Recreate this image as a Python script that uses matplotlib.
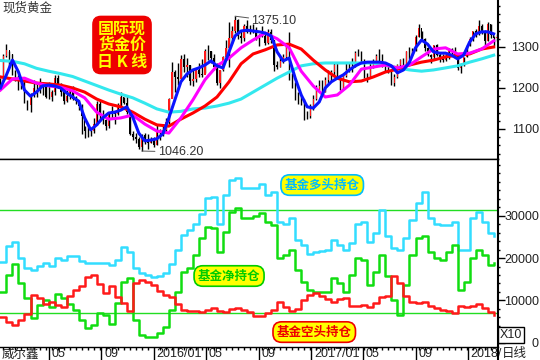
import numpy as np
import pandas as pd
import matplotlib
matplotlib.use('Agg')
import matplotlib.pyplot as plt
import matplotlib.dates as mdates
from matplotlib.lines import Line2D
from matplotlib.ticker import FixedLocator, MultipleLocator
from matplotlib.transforms import ScaledTranslation

plt.rcParams['font.family'] = ['Liberation Sans', 'Noto Sans CJK SC', 'DejaVu Sans']
CJK = ['Noto Sans CJK SC', 'DejaVu Sans']

# weekly spot gold (from 2015-01-09)
gold_close = [
    1223, 1277, 1293, 1283, 1235, 1227, 1206, 1213, 1166, 1159,
    1183, 1199, 1201, 1207, 1203, 1179, 1179, 1189, 1225, 1205,
    1190, 1168, 1181, 1201, 1173, 1168, 1157, 1131, 1096, 1095,
    1094, 1113, 1160, 1134, 1121, 1108, 1137, 1145, 1137, 1156,
    1177, 1163, 1142, 1088, 1081, 1076, 1056, 1085, 1075, 1065,
    1076, 1061, 1098, 1089, 1097, 1116, 1173, 1239, 1227, 1222,
    1270, 1250, 1255, 1217, 1222, 1243, 1235, 1231, 1290, 1289,
    1273, 1252, 1212, 1243, 1275, 1298, 1322, 1340, 1366, 1327,
    1322, 1350, 1336, 1336, 1341, 1321, 1326, 1328, 1310, 1337,
    1316, 1257, 1251, 1267, 1276, 1304, 1225, 1208, 1178, 1177,
    1160, 1133, 1131, 1152, 1173, 1196, 1204, 1190, 1220, 1234,
    1239, 1257, 1226, 1201, 1229, 1243, 1249, 1254, 1285, 1283,
    1268, 1228, 1227, 1254, 1267, 1279, 1266, 1254, 1256, 1241,
    1212, 1228, 1255, 1269, 1258, 1289, 1284, 1291, 1325, 1347,
    1320, 1297, 1280, 1275, 1304, 1280, 1272, 1269, 1275, 1294,
    1288, 1280, 1248, 1257, 1275, 1303, 1320, 1338, 1332, 1350,
    1333, 1315, 1356, 1330, 1323, 1324]
gold_high = [
    1224, 1282, 1307, 1290, 1284, 1243, 1232, 1221, 1218, 1171,
    1188, 1220, 1214, 1224, 1209, 1205, 1215, 1194, 1232, 1232,
    1212, 1196, 1195, 1205, 1204, 1180, 1170, 1160, 1107, 1104,
    1098, 1126, 1168, 1170, 1146, 1124, 1141, 1156, 1145, 1164,
    1191, 1178, 1180, 1142, 1094, 1090, 1080, 1088, 1089, 1088,
    1081, 1080, 1110, 1101, 1112, 1127, 1175, 1263, 1243, 1261,
    1280, 1283, 1273, 1256, 1244, 1245, 1262, 1271, 1296, 1304,
    1290, 1283, 1260, 1244, 1278, 1316, 1362, 1350, 1375.1, 1368,
    1338, 1355, 1367, 1353, 1356, 1348, 1331, 1352, 1331, 1344,
    1343, 1318, 1267, 1275, 1284, 1307, 1337, 1236, 1215, 1191,
    1180, 1173, 1144, 1162, 1182, 1207, 1220, 1220, 1226, 1244,
    1245, 1263, 1264, 1227, 1233, 1261, 1260, 1273, 1289, 1295,
    1289, 1270, 1236, 1264, 1270, 1283, 1296, 1284, 1259, 1261,
    1242, 1233, 1258, 1271, 1274, 1291, 1301, 1297, 1330, 1357,
    1338, 1322, 1300, 1282, 1306, 1307, 1286, 1284, 1287, 1297,
    1298, 1299, 1281, 1261, 1276, 1306, 1325, 1340, 1344, 1366,
    1355, 1341, 1362, 1356, 1326, 1331]
gold_low = [
    1204, 1216, 1276, 1250, 1232, 1216, 1194, 1198, 1164, 1147,
    1142, 1178, 1178, 1188, 1182, 1175, 1174, 1169, 1183, 1200,
    1181, 1162, 1166, 1173, 1170, 1161, 1147, 1088, 1077, 1080,
    1084, 1089, 1110, 1119, 1112, 1098, 1102, 1124, 1112, 1134,
    1151, 1161, 1137, 1085, 1073, 1065, 1052, 1046.2, 1064, 1050,
    1065, 1057, 1062, 1072, 1083, 1090, 1111, 1175, 1191, 1208,
    1219, 1239, 1226, 1208, 1206, 1215, 1226, 1228, 1236, 1269,
    1262, 1245, 1208, 1200, 1242, 1272, 1250, 1310, 1335, 1319,
    1310, 1314, 1334, 1332, 1335, 1316, 1302, 1324, 1306, 1308,
    1310, 1241, 1247, 1251, 1261, 1272, 1220, 1201, 1171, 1161,
    1158, 1122, 1124, 1128, 1146, 1171, 1195, 1180, 1190, 1213,
    1216, 1232, 1223, 1195, 1198, 1226, 1240, 1240, 1251, 1279,
    1260, 1224, 1214, 1230, 1248, 1259, 1263, 1250, 1241, 1236,
    1208, 1205, 1224, 1246, 1252, 1256, 1271, 1281, 1289, 1324,
    1316, 1289, 1277, 1260, 1271, 1277, 1263, 1264, 1265, 1271,
    1282, 1272, 1245, 1236, 1253, 1275, 1302, 1314, 1324, 1330,
    1331, 1306, 1314, 1322, 1303, 1315]

# moving averages (blue every 2 weeks, others every 4 weeks)
ma_fast = [
    1200, 1232, 1268, 1239, 1195, 1180, 1190, 1205, 1207, 1205,
    1200, 1188, 1178, 1168, 1127, 1098, 1110, 1127, 1139, 1141,
    1146, 1154, 1129, 1090, 1071, 1073, 1076, 1088, 1127, 1171,
    1215, 1234, 1244, 1249, 1256, 1266, 1254, 1249, 1288, 1327,
    1339, 1341, 1339, 1337, 1334, 1327, 1288, 1266, 1273, 1224,
    1183, 1154, 1151, 1166, 1200, 1215, 1224, 1232, 1244, 1254,
    1261, 1263, 1263, 1263, 1261, 1254, 1237, 1244, 1263, 1298,
    1317, 1307, 1288, 1285, 1285, 1280, 1271, 1280, 1312, 1332,
    1337, 1337, 1332]
ma_mid = [
    1195, 1222, 1224, 1212, 1205, 1202, 1193, 1176, 1141, 1124,
    1127, 1134, 1112, 1095, 1090, 1127, 1171, 1220, 1254, 1273,
    1298, 1317, 1334, 1320, 1298, 1241, 1205, 1178, 1183, 1207,
    1246, 1251, 1256, 1249, 1256, 1276, 1295, 1298, 1283, 1285,
    1295, 1315]
ma_slow = [
    1227, 1222, 1217, 1212, 1210, 1207, 1200, 1190, 1173, 1161,
    1154, 1141, 1124, 1110, 1107, 1124, 1139, 1156, 1178, 1215,
    1259, 1283, 1293, 1305, 1307, 1295, 1268, 1244, 1224, 1215,
    1217, 1227, 1239, 1246, 1256, 1263, 1268, 1276, 1280, 1283,
    1295, 1300]
ma_long = [
    1267, 1265, 1259, 1248, 1241, 1235, 1228, 1217, 1206, 1195,
    1185, 1176, 1163, 1149, 1141, 1143, 1149, 1151, 1156, 1163,
    1173, 1190, 1207, 1224, 1239, 1254, 1259, 1261, 1261, 1261,
    1261, 1261, 1256, 1249, 1244, 1241, 1244, 1249, 1254, 1263,
    1271, 1280]

# fund positions (contracts), every 2 weeks
fund_long = [
    19100, 22800, 23800, 20000, 17600, 17200, 18100, 18800, 18100, 20000,
    19500, 20500, 20500, 19300, 18800, 18800, 18800, 18800, 18400, 19500,
    22600, 21400, 17600, 16500, 16000, 15500, 15800, 16500, 18600, 21900,
    25400, 26600, 28000, 30400, 34200, 34400, 28000, 34900, 38400, 38900,
    36500, 36500, 36500, 37500, 34900, 35600, 28500, 28000, 29500, 24300,
    23100, 21000, 21400, 21700, 21900, 24300, 23100, 21900, 23500, 28000,
    28500, 23800, 25900, 31300, 25200, 22400, 21900, 24700, 29000, 33000,
    35600, 29500, 28000, 27800, 27800, 28500, 21900, 21900, 29500, 30900,
    28500, 25900, 25200]
fund_net = [
    12000, 16000, 18600, 14100, 10600, 5800, 8900, 10100, 8400, 11500,
    10600, 9100, 7700, 5400, 3500, 4200, 7000, 6500, 4400, 9400,
    14300, 15300, 5400, 1800, 1300, 1300, 2300, 3700, 7700, 12000,
    16700, 17600, 20700, 24700, 27300, 27100, 21400, 26100, 30900, 31800,
    29500, 29500, 29900, 30600, 28500, 27800, 20000, 20700, 21900, 17200,
    14300, 12500, 12000, 12000, 12000, 15300, 14100, 12000, 16000, 20000,
    19500, 13600, 16700, 20700, 15700, 10100, 6500, 13600, 20700, 24700,
    25200, 21400, 20000, 19500, 21400, 23100, 12500, 14300, 20000, 21900,
    20700, 18400, 18800]
fund_short = [
    6100, 4900, 4200, 5400, 6800, 11300, 10600, 9100, 9600, 8900,
    8400, 11000, 12500, 13400, 15500, 16000, 13900, 11700, 13400, 10800,
    9400, 7500, 14100, 14800, 14300, 13600, 12200, 11300, 10800, 9100,
    7700, 7500, 7500, 7300, 7700, 8200, 7500, 7300, 8000, 8200,
    7700, 7300, 6300, 6300, 7000, 7700, 9600, 8400, 7500, 8000,
    10100, 11300, 11700, 11000, 10300, 9600, 10300, 10600, 8700, 8700,
    8900, 8400, 9400, 10800, 11000, 15800, 14100, 11000, 9600, 9400,
    9600, 8700, 8200, 7700, 7500, 7000, 8700, 8400, 8700, 9100,
    8200, 7300, 6500]
ref_levels = [31300, 7100]

tick_dates = ['2015-05-01', '2015-09-01', '2016-01-01', '2016-05-01', '2016-09-01',
              '2017-01-01', '2017-05-01', '2017-09-01', '2018-01-01']
tick_labels = ['05', '09', '2016/01', '05', '09', '2017/01', '05', '09', '2018/']

start = '2015-01-09'
wk = pd.date_range(start, periods=len(gold_close), freq='7D')
d_fast = pd.date_range(start, periods=len(ma_fast), freq='14D')
d_ma = pd.date_range(start, periods=len(ma_long), freq='28D')
d_fund = pd.date_range(start, periods=len(fund_long), freq='14D')

fig = plt.figure(figsize=(5.4, 3.6), dpi=100)
ax1 = fig.add_axes([0, 201 / 360, 498 / 540, 159 / 360])
ax2 = fig.add_axes([0, 13.5 / 360, 498 / 540, 187.5 / 360], sharex=ax1)

# candles
close = np.array(gold_close, dtype=float)
opens = np.concatenate([[close[0]], close[:-1]])
up = close >= opens
ax1.vlines(wk, gold_low, gold_high, color='black', lw=1.0, zorder=2)
ax1.bar(wk, close - opens, bottom=opens, width=3.0,
        color=np.where(up, '#ff1a1a', 'black'), lw=0, zorder=2)

ax1.plot(d_ma, ma_long, color='#33e8ee', lw=2.2, zorder=3)
ax1.plot(d_ma, ma_slow, color='#ff0000', lw=2.2, zorder=4)
ax1.plot(d_ma, ma_mid, color='#ff00ff', lw=2.2, zorder=5)
ax1.plot(d_fast, ma_fast, color='#0a14ff', lw=2.2, zorder=6)

i_hi = int(np.argmax(gold_high))
i_lo = int(np.argmin(gold_low))
ax1.annotate(f'{gold_high[i_hi]:.2f}', xy=(wk[i_hi], gold_high[i_hi]),
             xytext=(pd.Timestamp('2016-08-15'), 1363), fontsize=9, color='#333333',
             va='center', ha='left',
             arrowprops=dict(arrowstyle='-', color='#555555', lw=0.7, shrinkA=0, shrinkB=0))
ax1.annotate(f'{gold_low[i_lo]:.2f}', xy=(wk[i_lo], gold_low[i_lo]),
             xytext=(pd.Timestamp('2016-01-10'), 1044), fontsize=9, color='#333333',
             va='center', ha='left',
             arrowprops=dict(arrowstyle='-', color='#555555', lw=0.7, shrinkA=0, shrinkB=0))

ax1.text(0.245, 0.717, '国际现\n货金价\n日 K 线', transform=ax1.transAxes,
         family=CJK, fontsize=11.5, fontweight='bold', color='#ffff00',
         ha='center', va='center', linespacing=1.05,
         bbox=dict(boxstyle='round,pad=0.25,rounding_size=0.5', fc='#ee0000', ec='#ee0000'))

ax1.set_ylim(1026.8, 1414.6)
ax1.set_xlim(pd.Timestamp('2015-01-08'), pd.Timestamp('2018-03-12'))

# fund positions
for lvl in ref_levels:
    ax2.axhline(lvl, color='#22dd22', lw=1.0, zorder=1)
ax2.plot(d_fund, fund_long, color='#33ddff', lw=1.8, drawstyle='steps-post', zorder=3)
ax2.plot(d_fund, fund_net, color='#11dd11', lw=1.8, drawstyle='steps-post', zorder=3)
ax2.plot(d_fund, fund_short, color='#ff1a1a', lw=1.8, drawstyle='steps-post', zorder=4)
ax2.set_ylim(-900, 43400)

labels = [('基金多头持仓', 0.647, 0.861, '#00bbff'),
          ('基金净持仓', 0.460, 0.376, '#00cc00'),
          ('基金空头持仓', 0.631, 0.077, '#ee0000')]
for txt, fx, fy, col in labels:
    ax2.text(fx, fy, txt, transform=ax2.transAxes, family=CJK, fontsize=9,
             fontweight='bold', color=col, ha='center', va='center', zorder=6,
             bbox=dict(boxstyle='round,pad=0.3,rounding_size=0.7', fc='#ffff00', ec=col, lw=1.2))

# axes styling
for ax in (ax1, ax2):
    ax.spines['left'].set_visible(False)
    for s in ('top', 'right', 'bottom'):
        ax.spines[s].set_color('black')
        ax.spines[s].set_linewidth(1.0)
    ax.spines['right'].set_linewidth(1.5)
    ax.yaxis.tick_right()
    ax.tick_params(axis='y', which='major', length=5, width=1, pad=24.5,
                   labelsize=9, labelcolor='#222222')
    ax.tick_params(axis='y', which='minor', length=1.5, width=1)
ax1.spines['top'].set_visible(False)

ax1.set_yticks([1100, 1200, 1300])
ax1.yaxis.set_minor_locator(MultipleLocator(20))
ax2.set_yticks([0, 10000, 20000, 30000])
ax2.yaxis.set_minor_locator(MultipleLocator(2000))
for ax in (ax1, ax2):
    for lbl in ax.get_yticklabels():
        lbl.set_horizontalalignment('right')

ax1.tick_params(axis='x', which='both', bottom=False, labelbottom=False)
ax2.set_xticks(pd.to_datetime(tick_dates))
ax2.set_xticklabels(tick_labels)
minor_days = pd.date_range('2015-01-16', '2018-03-09', freq='14D')
ax2.xaxis.set_minor_locator(FixedLocator(mdates.date2num(minor_days)))
ax2.tick_params(axis='x', which='major', length=10, width=1, pad=-9,
                labelsize=9, labelcolor='#222222')
ax2.tick_params(axis='x', which='minor', length=2.5, width=1)
shift = ScaledTranslation(2 / 72, 0, fig.dpi_scale_trans)
for lbl in ax2.get_xticklabels():
    lbl.set_horizontalalignment('left')
    lbl.set_transform(lbl.get_transform() + shift)

# separator under the price axis, down to the bottom edge
fig.add_artist(Line2D([498 / 540, 498 / 540], [0, 13.5 / 360], color='black', lw=1.5))

fig.text(2 / 540, 1 - 8 / 360, '现货黄金', family=CJK, fontsize=9, color='#333333',
         ha='left', va='center')
fig.text(2 / 540, 1 - 354 / 360, '威尔鑫', family=CJK, fontsize=9, color='#222222',
         ha='left', va='center')
fig.text(502 / 540, 1 - 354 / 360, '日线', family=CJK, fontsize=9, color='#222222',
         ha='left', va='center')
fig.text(511 / 540, 1 - 335 / 360, 'X10', fontsize=9, color='#222222',
         ha='center', va='center',
         bbox=dict(boxstyle='square,pad=0.15', fc='white', ec='black', lw=1))

fig.savefig('out.png', dpi=100)
